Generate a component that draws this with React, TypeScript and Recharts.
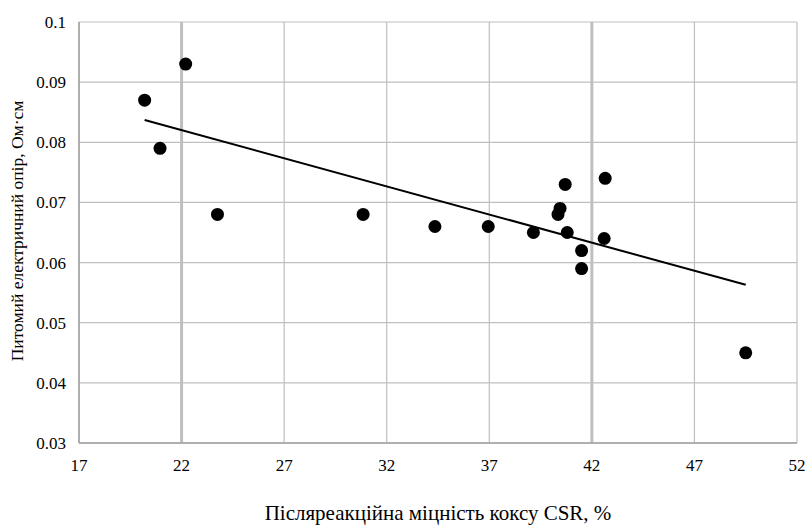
import React from "react";
import {
  ScatterChart, Scatter, XAxis, YAxis, CartesianGrid, ReferenceLine, Label,
} from "recharts";

/* ── CSR vs resistivity points ───────────────────────── */
const csr = [20.2, 22.2, 20.95, 23.75, 30.85, 34.35, 36.95, 39.15, 40.35, 40.45, 40.7, 40.8, 41.5, 41.5, 42.6, 42.65, 49.5];
const resistivity = [0.087, 0.093, 0.079, 0.068, 0.068, 0.066, 0.066, 0.065, 0.068, 0.069, 0.073, 0.065, 0.062, 0.059, 0.064, 0.074, 0.045];

/* ── Linear trend endpoints ──────────────────────────── */
const trendX = [20.2, 49.5];
const trendY = [0.0837, 0.0563];

const xTicks = [17, 22, 27, 32, 37, 42, 47, 52];
const yTicks = [0.03, 0.04, 0.05, 0.06, 0.07, 0.08, 0.09, 0.1];
const heavyGrid = [22, 42];

const points = csr.map((x, i) => ({ x, y: resistivity[i] }));
const trend = trendX.map((x, i) => ({ x, y: trendY[i] }));

const font = "'Liberation Serif', 'Times New Roman', serif";
const tick = { fill: "#000", fontSize: 17, fontFamily: font };

const Dot = (p: any) => <circle cx={p.cx} cy={p.cy} r={6.5} fill="#000" />;

export default function App() {
  return (
    <div style={{ position: "absolute", left: 0, top: 0, background: "#fff" }}>
      <ScatterChart width={808} height={525} margin={{ top: 22, right: 11, bottom: 0, left: 0 }}>
        <CartesianGrid stroke="#bfbfbf" strokeWidth={1.2} />
        {heavyGrid.map((v) => (
          <ReferenceLine key={v} x={v} stroke="#bfbfbf" strokeWidth={3} />
        ))}
        <XAxis
          type="number" dataKey="x" domain={[17, 52]} ticks={xTicks}
          height={82} tick={tick} tickLine={false} tickSize={0} tickMargin={16}
          axisLine={{ stroke: "#a0a0a0", strokeWidth: 1.5 }} allowDataOverflow
        >
          <Label
            value="Післяреакційна міцність коксу CSR, %"
            position="insideBottom" offset={5}
            style={{ fill: "#000", fontSize: 21, fontFamily: font }}
          />
        </XAxis>
        <YAxis
          type="number" dataKey="y" domain={[0.03, 0.1]} ticks={yTicks}
          width={79} tick={tick} tickLine={false} tickSize={0} tickMargin={13}
          axisLine={{ stroke: "#a0a0a0", strokeWidth: 1.5 }} allowDataOverflow
        >
          <Label
            content={() => (
              <text
                x={17} y={231} transform="rotate(-90, 17, 231)"
                textAnchor="middle" dominantBaseline="central"
                style={{ fill: "#000", fontSize: 17.5, fontFamily: font }}
              >
                Питомий електричний опір, Ом·см
              </text>
            )}
          />
        </YAxis>
        <Scatter
          data={trend} line={{ stroke: "#000", strokeWidth: 2 }} lineType="joint"
          shape={() => <g />} isAnimationActive={false}
        />
        <Scatter data={points} shape={Dot} isAnimationActive={false} />
      </ScatterChart>
    </div>
  );
}
